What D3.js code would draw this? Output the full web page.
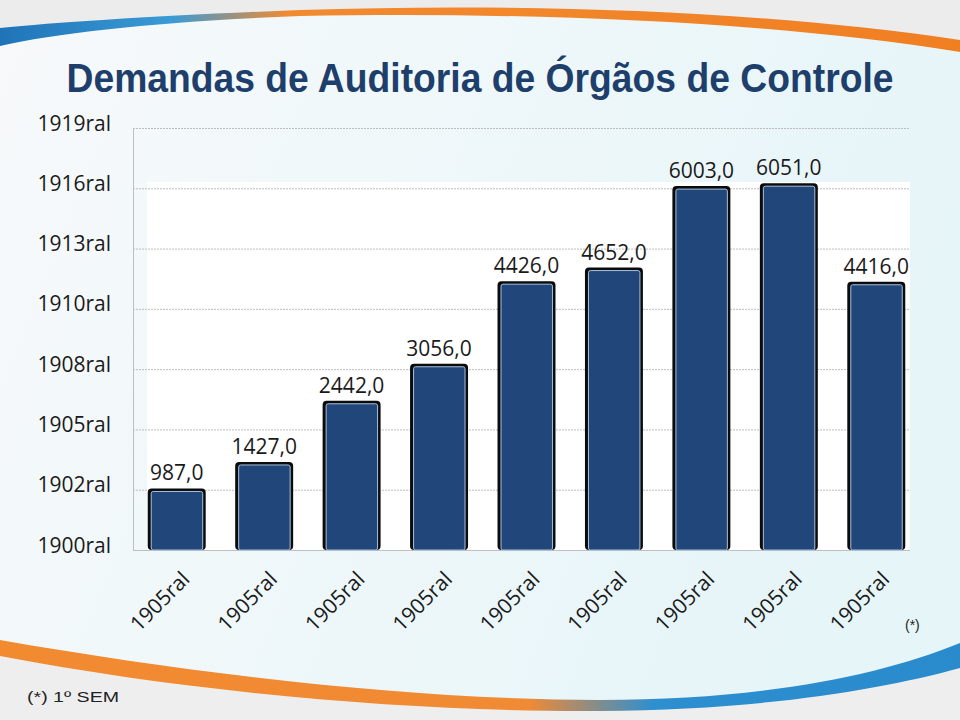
<!DOCTYPE html>
<html><head><meta charset="utf-8">
<script src="https://cdn.jsdelivr.net/npm/d3@7"></script>
<style>body{margin:0;}svg{display:block;}</style>
</head><body>
<script>
const categories = ["1905ral","1905ral","1905ral","1905ral","1905ral","1905ral","1905ral","1905ral","1905ral"];
const values = [987, 1427, 2442, 3056, 4426, 4652, 6003, 6051, 4416];
const valueLabels = ["987,0","1427,0","2442,0","3056,0","4426,0","4652,0","6003,0","6051,0","4416,0"];
const yTickValues = [0,1000,2000,3000,4000,5000,6000,7000];
const yTickLabels = ["1900ral","1902ral","1905ral","1908ral","1910ral","1913ral","1916ral","1919ral"];

(function(){
const W=960,H=720;
const svg=d3.select("body").append("svg").attr("width",W).attr("height",H);
const defs=svg.append("defs");
const bg=defs.append("linearGradient").attr("id","bg").attr("x1","0").attr("y1","0").attr("x2","1").attr("y2","0.3");
bg.append("stop").attr("offset","0").attr("stop-color","#f7f9fa");
bg.append("stop").attr("offset","0.35").attr("stop-color","#f1f8fa");
bg.append("stop").attr("offset","1").attr("stop-color","#e6f5f8");
svg.append("rect").attr("width",W).attr("height",H).attr("fill","url(#bg)");

// top gray area above swoosh
svg.append("path").attr("d","M0,0 L960,0 L960,42 C760,12 520,4 300,12 C170,17 60,24 0,30 Z").attr("fill","#ececec");
const tg=defs.append("linearGradient").attr("id","tg").attr("x1","0").attr("x2","1");
tg.append("stop").attr("offset","0").attr("stop-color","#1f74b8");
tg.append("stop").attr("offset","0.18").attr("stop-color","#3a9bd5");
tg.append("stop").attr("offset","0.3").attr("stop-color","#f28a30");
tg.append("stop").attr("offset","1").attr("stop-color","#f07f22");
svg.append("path").attr("d","M0,28 C60,22 170,15 300,10 C520,3 760,10 960,40 L960,52 C760,20 520,12 300,16 C170,21 60,32 0,46 Z").attr("fill","url(#tg)");

// bottom swoosh
svg.append("path").attr("d","M0,656 C200,690 420,708 600,706 C760,704 880,680 960,655 L960,720 L0,720 Z").attr("fill","#eeeeee");
const bgr=defs.append("linearGradient").attr("id","bgr").attr("x1","0").attr("x2","1");
bgr.append("stop").attr("offset","0").attr("stop-color","#f28a30");
bgr.append("stop").attr("offset","0.55").attr("stop-color","#f08a34");
bgr.append("stop").attr("offset","0.68").attr("stop-color","#2e8fd0");
bgr.append("stop").attr("offset","1").attr("stop-color","#2a8bcc");
svg.append("path").attr("d","M0,640 C200,675 420,700 600,700 C760,700 880,676 960,643 L960,668 C880,690 760,710 600,711 C420,712 200,694 0,656 Z").attr("fill","url(#bgr)");

// title
svg.append("text").attr("x",480).attr("y",92).attr("text-anchor","middle")
  .attr("font-family","Liberation Sans, Arial, sans-serif").attr("font-weight","bold")
  .attr("font-size",40).attr("fill","#1e3f6c")
  .attr("textLength",827).attr("lengthAdjust","spacingAndGlyphs")
  .text("Demandas de Auditoria de Órgãos de Controle");

const pLeft=133,pRight=920,pTop=128,pBottom=550;
// white plot area
svg.append("rect").attr("x",147).attr("y",182).attr("width",763).attr("height",368).attr("fill","#ffffff");

const x=d3.scaleBand().domain(d3.range(values.length)).range([pLeft,pRight]).paddingInner(0.36).paddingOuter(0.18);
const y=d3.scaleLinear().domain([0,7000]).range([pBottom,pTop]);

// gridlines
svg.append("g").selectAll("line").data(yTickValues.slice(1)).join("line")
  .attr("x1",pLeft).attr("x2",910).attr("y1",d=>y(d)+0.5).attr("y2",d=>y(d)+0.5)
  .attr("stroke","#bdbdbd").attr("stroke-width",1).attr("stroke-dasharray","2,1");

// y axis labels
const yAxis=d3.axisLeft(y).tickValues(yTickValues).tickSize(0).tickPadding(0)
  .tickFormat((d,i)=>yTickLabels[i]);
const ya=svg.append("g").attr("transform",`translate(111,0)`).call(yAxis);
ya.select(".domain").remove();
ya.selectAll("text").attr("font-family","Open Sans, Liberation Sans, sans-serif").attr("font-size",21).attr("fill","#1a1a1a").attr("dy","0.1em");

// axis lines
svg.append("line").attr("x1",pLeft+0.5).attr("x2",pLeft+0.5).attr("y1",pTop).attr("y2",pBottom).attr("stroke","#bfbfbf");
svg.append("line").attr("x1",pLeft).attr("x2",910).attr("y1",pBottom+0.5).attr("y2",pBottom+0.5).attr("stroke","#bfbfbf");

// bars
const bw=x.bandwidth();
const g=svg.append("g");
g.selectAll("rect.sh").data(values).join("rect").attr("class","sh")
  .attr("x",(d,i)=>x(i)-1).attr("y",d=>y(d)-2).attr("width",bw+2).attr("height",d=>pBottom-y(d)+2)
  .attr("rx",4).attr("fill","#0b0b0b");
g.selectAll("rect.b").data(values).join("rect").attr("class","b")
  .attr("x",(d,i)=>x(i)+2.5).attr("y",d=>y(d)+1).attr("width",bw-4.5).attr("height",d=>pBottom-y(d)-1)
  .attr("rx",2).attr("fill","#21477a").attr("stroke","#a9c0de").attr("stroke-width",1);

// value labels
svg.append("g").selectAll("text").data(values).join("text")
  .attr("x",(d,i)=>x(i)+bw/2).attr("y",d=>y(d)-10).attr("text-anchor","middle")
  .attr("font-family","Open Sans, Liberation Sans, sans-serif").attr("font-size",21).attr("fill","#1a1a1a")
  .text((d,i)=>valueLabels[i]);

// x labels
svg.append("g").selectAll("text").data(categories).join("text")
  .attr("transform",(d,i)=>`translate(${x(i)+bw/2+4},${pBottom+20}) rotate(-45)`)
  .attr("text-anchor","end").attr("dy","0.7em")
  .attr("font-family","Open Sans, Liberation Sans, sans-serif").attr("font-size",21).attr("fill","#1a1a1a")
  .text(d=>d);

svg.append("text").attr("x",905).attr("y",630).attr("font-family","Liberation Sans, Arial, sans-serif").attr("font-size",14).attr("fill","#222").text("(*)");
svg.append("text").attr("x",27).attr("y",702).attr("font-family","Liberation Sans, Arial, sans-serif").attr("font-size",14).attr("fill","#222")
  .attr("textLength",92).attr("lengthAdjust","spacingAndGlyphs").text("(*) 1º SEM");
})();
</script>
</body></html>
